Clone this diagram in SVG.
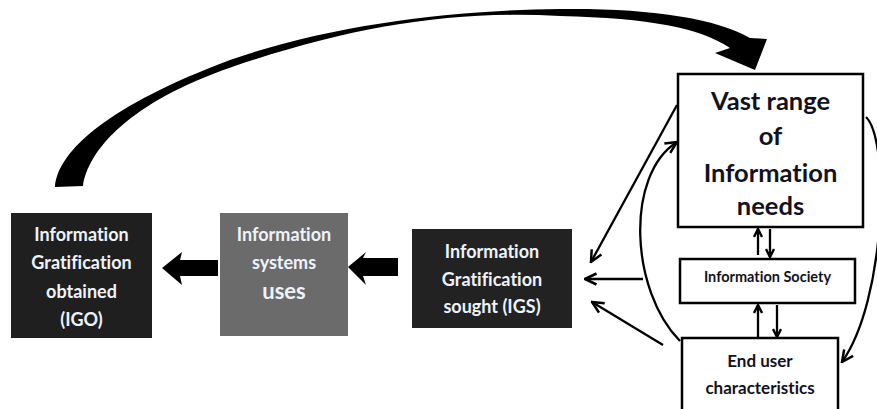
<svg xmlns="http://www.w3.org/2000/svg" width="877" height="409" viewBox="0 0 877 409">
<defs>
<marker id="v" viewBox="0 0 14 14" markerWidth="14" markerHeight="14" refX="12.5" refY="7" orient="auto" markerUnits="userSpaceOnUse">
<path d="M1,1.5 L12.5,7 L1,12.5" fill="none" stroke="#000" stroke-width="2.5"/>
</marker>
<marker id="vs" viewBox="0 0 10 10" markerWidth="10" markerHeight="10" refX="9" refY="5" orient="auto" markerUnits="userSpaceOnUse">
<path d="M1,1 L9,5 L1,9" fill="none" stroke="#000" stroke-width="2.4"/>
</marker>
</defs>
<style>
text{font-family:Lato,"Liberation Sans",sans-serif;font-weight:bold;text-anchor:middle;font-variant-ligatures:none}
.dk text{fill:#eef3fb;font-size:18px}
.lt text{fill:#111122}
.box{stroke:#000;stroke-width:2.5;fill:#fff}
.ln{fill:none;stroke:#000;stroke-width:2.3}
.fat{fill:#000}
</style>
<rect width="877" height="409" fill="#fff"/>
<g id="igo" class="dk">
<rect x="11" y="213" width="141" height="125" fill="#1f1f1f"/>
<text x="81.5" y="241">Information</text>
<text x="81.5" y="269">Gratification</text>
<text x="81.5" y="298">obtained</text>
<text x="81.5" y="326">(IGO)</text>
</g>
<g id="systems" class="dk">
<rect x="220" y="213" width="128" height="123" fill="#6b6b6b"/>
<text x="284" y="241">Information</text>
<text x="284" y="269">systems</text>
<text x="284" y="299" style="font-size:22px">uses</text>
</g>
<g id="igs" class="dk">
<rect x="412" y="229" width="160" height="99" fill="#222"/>
<text x="492" y="258">Information</text>
<text x="492" y="286">Gratification</text>
<text x="492" y="313">sought (IGS)</text>
</g>
<g id="needs" class="lt">
<rect class="box" x="678" y="74" width="185" height="153"/>
<text x="770.5" y="110" style="font-size:25.5px">Vast range</text>
<text x="770.5" y="145" style="font-size:25.5px">of</text>
<text x="770.5" y="182" style="font-size:25.5px">Information</text>
<text x="770.5" y="215" style="font-size:25.5px">needs</text>
</g>
<g id="society" class="lt">
<rect class="box" x="680" y="259" width="175" height="44"/>
<text x="767.5" y="282" style="font-size:14.5px">Information Society</text>
</g>
<g id="enduser" class="lt">
<rect class="box" x="682" y="338" width="156" height="80"/>
<text x="760" y="367" style="font-size:17px">End user</text>
<text x="760" y="394" style="font-size:17px">characteristics</text>
</g>
<g id="connectors">
<path class="fat" d="M55,187 C58,150 110,105 230,60 C330,25 450,10 560,9 C650,8 715,18 750,38 L767,39 L755,70 L715,53 L730,48 C700,28 650,18 560,16 C450,10 350,27 232,67 C130,102 88,150 83,186 Z"/>
<polygon class="fat" points="218,260 180,260 182,252 162,268 182,285 180,276 218,276"/>
<polygon class="fat" points="398,258 363,258 366,252 348,267 366,285 363,276 398,276"/>
<line class="ln" x1="677" y1="105" x2="591" y2="262" marker-end="url(#v)"/>
<line class="ln" x1="643" y1="279" x2="585" y2="279" marker-end="url(#v)"/>
<line class="ln" x1="663" y1="345" x2="592" y2="302" marker-end="url(#v)"/>
<path class="ln" d="M680,341 C630,290 625,175 677,142" marker-end="url(#v)"/>
<path class="ln" d="M866,117 C890,140 886,300 842,362" marker-end="url(#v)"/>
<line class="ln" x1="758" y1="255" x2="758" y2="229" marker-end="url(#vs)"/>
<line class="ln" x1="770" y1="229" x2="770" y2="257" marker-end="url(#vs)"/>
<line class="ln" x1="758" y1="337" x2="758" y2="305" marker-end="url(#vs)"/>
<line class="ln" x1="777" y1="305" x2="777" y2="337" marker-end="url(#vs)"/>
</g>
</svg>
